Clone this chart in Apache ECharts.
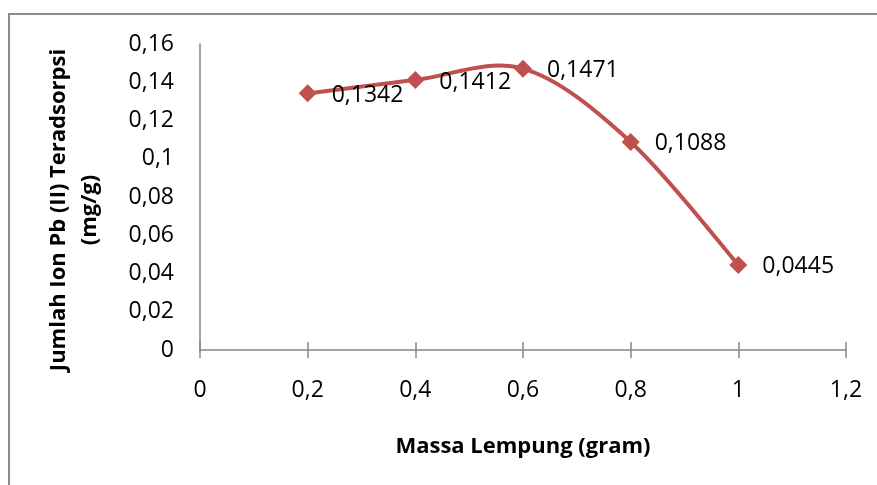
<!DOCTYPE html>
<html><head><meta charset="utf-8">
<script src="https://cdn.jsdelivr.net/npm/echarts@6/dist/echarts.min.js"></script>
<style>html,body{margin:0;padding:0;background:#fff}#c{width:877px;height:485px}</style>
</head><body><div id="c"></div>
<script>
var xValues = [0.2, 0.4, 0.6, 0.8, 1.0];
var yValues = [0.1342, 0.1412, 0.1471, 0.1088, 0.0445];
var xTitle = 'Massa Lempung (gram)';
var yTitle = 'Jumlah Ion Pb (II) Teradsorpsi\n(mg/g)';
var FONT = '"Open Sans", Lato, sans-serif';
var RED = '#C0504D';
function comma(v, d){ var s = (d==null? String(+v.toFixed(4)) : v.toFixed(d)); return s.replace('.', ','); }
var chart = echarts.init(document.getElementById('c'), null, {renderer:'canvas'});
var axisColor = '#868686';
var pairs = xValues.map(function(x,i){return [x, yValues[i]];});

// smoothed connecting curve (Excel-like), positions from the library's coordinate mapping
function renderSeg(params, api){
  var i = params.dataIndex, n = pairs.length;
  if (i >= n - 1) return null;
  var P = function(k){ k = Math.max(0, Math.min(n-1, k)); return api.coord(pairs[k]); };
  var p0 = P(i-1), p1 = P(i), p2 = P(i+1), p3 = P(i+2);
  return {
    type:'bezierCurve',
    shape:{
      x1:p1[0], y1:p1[1], x2:p2[0], y2:p2[1],
      cpx1:p1[0] + (p2[0]-p0[0])/6, cpy1:p1[1] + (p2[1]-p0[1])/6,
      cpx2:p2[0] - (p3[0]-p1[0])/6, cpy2:p2[1] - (p3[1]-p1[1])/6
    },
    style:{fill:null, stroke:RED, lineWidth:4, lineCap:'round'}
  };
}

chart.setOption({
  animation:false,
  graphic:[{type:'rect', shape:{x:9,y:14,width:900,height:500}, style:{fill:'none', stroke:'#8c8c8c', lineWidth:2}, silent:true}],
  grid:{left:200, right:31, top:44, bottom:135},
  xAxis:[{
    type:'value', min:0, max:1.2, interval:0.2,
    name:xTitle, nameLocation:'middle', nameGap:86,
    nameTextStyle:{fontFamily:FONT, fontWeight:'bold', fontSize:22, color:'#000'},
    axisLine:{lineStyle:{color:axisColor, width:1.5}},
    axisTick:{show:true, inside:false, length:8, lineStyle:{color:axisColor, width:1.5}},
    axisLabel:{fontFamily:FONT, fontSize:23, color:'#000', margin:29, formatter:function(v){return comma(v);}},
    splitLine:{show:false}
  },{
    type:'value', min:0, max:1.2, interval:0.2, position:'bottom',
    axisLine:{show:false},
    axisTick:{show:true, inside:true, length:8, lineStyle:{color:axisColor, width:1.5}},
    axisLabel:{show:false}, splitLine:{show:false}
  }],
  yAxis:{
    type:'value', min:0, max:0.16, interval:0.02,
    name:yTitle, nameLocation:'middle', nameGap:95, nameRotate:90,
    nameTextStyle:{fontFamily:FONT, fontWeight:'bold', fontSize:22, color:'#000', lineHeight:31, padding:[0,26,0,0]},
    axisLine:{show:true, lineStyle:{color:axisColor, width:1.5}},
    axisTick:{show:false},
    axisLabel:{fontFamily:FONT, fontSize:23, color:'#000', margin:26, formatter:function(v){return comma(v);}},
    splitLine:{show:false}
  },
  series:[{
    type:'custom', coordinateSystem:'cartesian2d', xAxisIndex:0, yAxisIndex:0,
    data:pairs, renderItem:renderSeg, z:2, silent:true
  },{
    type:'line', xAxisIndex:0, yAxisIndex:0, z:3,
    data:pairs,
    symbol:'diamond', symbolSize:18,
    lineStyle:{width:0, opacity:0},
    itemStyle:{color:RED},
    label:{show:true, position:'right', distance:15, offset:[0,2], fontFamily:FONT, fontSize:23, color:'#000',
      formatter:function(p){return comma(p.value[1],4);}}
  }]
});
</script></body></html>
